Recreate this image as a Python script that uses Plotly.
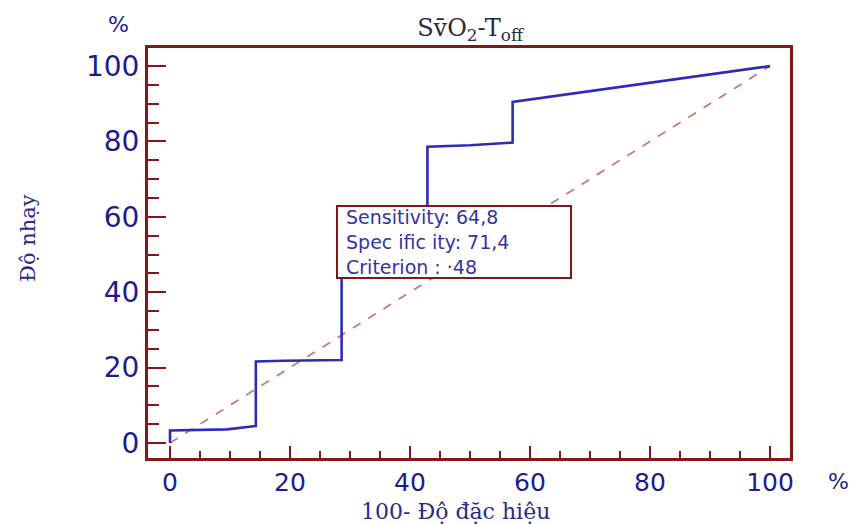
import plotly.graph_objects as go

# ROC curve points (100 - specificity, sensitivity)
fpr = [0, 0, 9.5, 14.3, 14.3, 19.0, 28.6, 28.6, 42.9, 42.9, 50.0, 57.1, 57.1, 100]
tpr = [0, 3.3, 3.6, 4.5, 21.6, 21.8, 22.0, 57.0, 57.0, 78.6, 79.0, 79.7, 90.5, 100]
diag_x = [0, 100]
diag_y = [0, 100]
tick_vals = [0, 20, 40, 60, 80, 100]
box_lines = ["Sensitivity: 64,8", "Spec ific ity: 71,4", "Criterion : \u00b748"]

W, H = 859, 524
ML, MR, MT, MB = 148, 69, 48, 66
PW, PH = W - ML - MR, H - MT - MB

def px(x):
    return (x - ML) / PW

def py(y):
    return (H - MB - y) / PH

NAVY = "#1c1c90"
FRAME = "#821818"
SANS = "DejaVu Sans, Arial"
SERIF = "DejaVu Serif, Times New Roman"

fig = go.Figure()
fig.add_trace(go.Scatter(x=diag_x, y=diag_y, mode="lines",
                         line=dict(color="#c77a7a", width=1.8, dash="dash"),
                         hoverinfo="skip", showlegend=False))
fig.add_trace(go.Scatter(x=fpr, y=tpr, mode="lines",
                         line=dict(color="#2c2cb8", width=2.6),
                         showlegend=False))

fig.add_annotation(x=27.7, y=63.1, xref="x", yref="y", xanchor="left", yanchor="top",
                   text="<br>".join("&nbsp;" + s for s in box_lines), showarrow=False,
                   align="left", valign="middle",
                   width=228, height=66,
                   font=dict(family=SANS, size=19, color="#3434a4"),
                   bgcolor="white", bordercolor=FRAME, borderwidth=2, borderpad=2)

# percent labels
fig.add_annotation(x=px(118), y=py(25), xref="paper", yref="paper", text="%", showarrow=False,
                   xanchor="center", yanchor="middle",
                   font=dict(family=SANS, size=22, color=NAVY))
fig.add_annotation(x=px(838), y=py(481), xref="paper", yref="paper", text="%", showarrow=False,
                   xanchor="center", yanchor="middle",
                   font=dict(family=SANS, size=22, color=NAVY))
# axis titles
fig.add_annotation(x=px(455), y=py(511), xref="paper", yref="paper",
                   text="100- \u0110\u1ed9 \u0111\u1eb7c hi\u1ec7u", showarrow=False,
                   xanchor="center", yanchor="middle",
                   font=dict(family=SERIF, size=22, color="#2a2a8a"))
fig.add_annotation(x=px(28), y=py(238), xref="paper", yref="paper",
                   text="\u0110\u1ed9 nh\u1ea1y", showarrow=False, textangle=-90,
                   xanchor="center", yanchor="middle",
                   font=dict(family=SERIF, size=21, color="#2a2a8a"))

fig.update_layout(
    width=W, height=H,
    margin=dict(l=ML, r=MR, t=MT, b=MB),
    plot_bgcolor="white", paper_bgcolor="white",
    title=dict(text="Sv\u0304O<sub>2</sub>-T<sub>off</sub>", x=470 / W, xanchor="center",
               y=1 - 28 / H, yanchor="middle",
               font=dict(family=SERIF, size=24, color="#2a2a44")),
)

fig.update_xaxes(range=[-3.67, 103.33], showgrid=False, zeroline=False,
                 showline=True, mirror=True, linecolor=FRAME, linewidth=3,
                 tickmode="array", tickvals=tick_vals, ticks="inside", ticklen=12,
                 tickwidth=2, tickcolor=FRAME,
                 minor=dict(dtick=5, tick0=0, ticks="inside", ticklen=7, tickwidth=2, tickcolor=FRAME),
                 tickfont=dict(family=SANS, size=25, color=NAVY))
fig.update_yaxes(range=[-4.0, 104.8], showgrid=False, zeroline=False,
                 showline=True, mirror=True, linecolor=FRAME, linewidth=3,
                 tickmode="array", tickvals=tick_vals, ticks="inside", ticklen=18,
                 tickwidth=2, tickcolor=FRAME,
                 minor=dict(dtick=5, tick0=0, ticks="inside", ticklen=11, tickwidth=2, tickcolor=FRAME),
                 tickfont=dict(family=SANS, size=28, color=NAVY))

fig.write_html("out.html")
